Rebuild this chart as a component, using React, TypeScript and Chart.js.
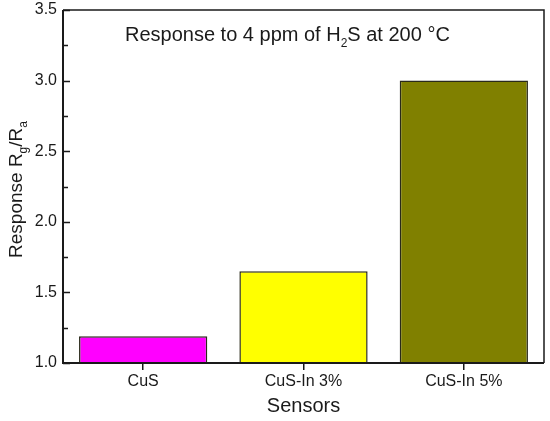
import React, { useEffect, useRef } from 'react';
import { Chart, registerables } from 'chart.js';

Chart.register(...registerables);

const categories = ['CuS', 'CuS-In 3%', 'CuS-In 5%'];
const responses = [1.19, 1.65, 3.0];
const barColors = ['#FF00FF', '#FFFF00', '#808000'];
const yMajorTicks = [1.0, 1.5, 2.0, 2.5, 3.0, 3.5];
const yMinorTicks = [1.25, 1.75, 2.25, 2.75, 3.25];
const titleParts = ['Response to 4 ppm of H', '2', 'S at 200 °C'];
const yTitleParts = ['Response R', 'g', '/R', 'a'];
const xTitle = 'Sensors';

const FONT = '"Liberation Sans", Arial, sans-serif';
const INK = '#1a1a1a';

function drawRich(ctx: CanvasRenderingContext2D, parts: string[], size: number, x: number, y: number) {
  let cx = x;
  parts.forEach((p, i) => {
    const sub = i % 2 === 1;
    ctx.font = `${sub ? Math.round(size * 0.62) : size}px ${FONT}`;
    ctx.fillText(p, cx, sub ? y + size * 0.28 : y);
    cx += ctx.measureText(p).width;
  });
}
function richWidth(ctx: CanvasRenderingContext2D, parts: string[], size: number) {
  let w = 0;
  parts.forEach((p, i) => {
    const sub = i % 2 === 1;
    ctx.font = `${sub ? Math.round(size * 0.62) : size}px ${FONT}`;
    w += ctx.measureText(p).width;
  });
  return w;
}

const decorPlugin = {
  id: 'decor',
  afterDraw(chart: any) {
    const { ctx, chartArea: a, scales } = chart;
    const ys = scales.y;
    ctx.save();
    ctx.strokeStyle = INK;
    ctx.lineWidth = 1.5;
    ctx.beginPath();
    ctx.moveTo(a.left, a.top);
    ctx.lineTo(a.right, a.top);
    ctx.lineTo(a.right, a.bottom);
    ctx.stroke();
    ctx.lineWidth = 2;
    ctx.beginPath();
    ctx.moveTo(a.left, a.top);
    ctx.lineTo(a.left, a.bottom);
    ctx.lineTo(a.right, a.bottom);
    ctx.stroke();
    ctx.lineWidth = 1.5;
    ctx.beginPath();
    yMajorTicks.forEach((v) => {
      const py = Math.round(ys.getPixelForValue(v)) + 0.5;
      ctx.moveTo(a.left, py);
      ctx.lineTo(a.left + 7, py);
    });
    yMinorTicks.forEach((v) => {
      const py = Math.round(ys.getPixelForValue(v)) + 0.5;
      ctx.moveTo(a.left, py);
      ctx.lineTo(a.left + 5, py);
    });
    ctx.stroke();
    ctx.fillStyle = INK;
    ctx.textBaseline = 'alphabetic';
    ctx.textAlign = 'left';
    drawRich(ctx, titleParts, 20, 125, 41);
    const ySize = 19;
    const w = richWidth(ctx, yTitleParts, ySize);
    ctx.translate(22, (a.top + a.bottom) / 2 + 3);
    ctx.rotate(-Math.PI / 2);
    drawRich(ctx, yTitleParts, ySize, -w / 2, 0);
    ctx.restore();
  },
};

export default function App() {
  const ref = useRef<HTMLCanvasElement | null>(null);
  useEffect(() => {
    if (!ref.current) return;
    const chart = new Chart(ref.current, {
      type: 'bar',
      data: {
        labels: categories,
        datasets: [
          {
            data: responses,
            backgroundColor: barColors,
            borderColor: '#2a2a1a',
            borderWidth: 1.5,
            barPercentage: 1,
            categoryPercentage: 0.8,
          },
        ],
      },
      options: {
        animation: false,
        responsive: false,
        maintainAspectRatio: false,
        layout: { padding: { left: 0, top: 10, right: 6, bottom: 0 } },
        plugins: { legend: { display: false }, tooltip: { enabled: false }, title: { display: false } },
        scales: {
          x: {
            grid: { display: true, offset: false, drawOnChartArea: false, drawTicks: true, tickLength: 7, color: INK, lineWidth: 1.5 },
            border: { display: false },
            ticks: { color: INK, font: { family: FONT, size: 16 }, padding: 2 },
            title: { display: true, text: xTitle, color: INK, font: { family: FONT, size: 20 }, padding: { top: 0, bottom: 3 } },
            afterFit: (s: any) => { s.height = 58; },
          },
          y: {
            min: 1,
            max: 3.5,
            grid: { display: false, drawTicks: false },
            border: { display: false },
            ticks: {
              stepSize: 0.5,
              color: INK,
              font: { family: FONT, size: 16 },
              padding: 6,
              callback: (v: any) => Number(v).toFixed(1),
            },
            afterFit: (s: any) => { s.width = 63; s.paddingTop = 0; s.paddingBottom = 0; },
          },
        },
      },
      plugins: [decorPlugin],
    });
    return () => chart.destroy();
  }, []);
  return (
    <div style={{ position: 'fixed', left: 0, top: 0, width: 550, height: 421, background: '#fff' }}>
      <canvas ref={ref} width={550} height={421} style={{ width: 550, height: 421 }} />
    </div>
  );
}
